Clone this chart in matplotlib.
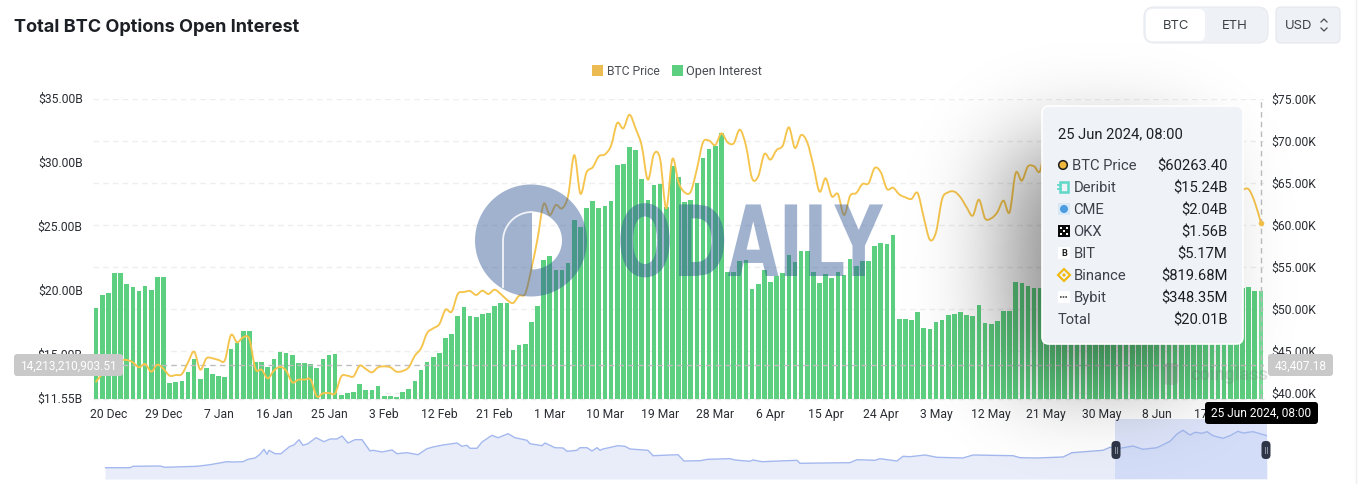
import math
import numpy as np
import matplotlib
matplotlib.use("Agg")
import matplotlib.pyplot as plt
from matplotlib.path import Path
from matplotlib.patches import PathPatch, FancyBboxPatch, Rectangle, Circle, Polygon
from matplotlib.transforms import Affine2D, ScaledTranslation
import matplotlib.patheffects as pe

W, H = 1358, 485
plt.rcParams['font.family'] = ['Roboto', 'DejaVu Sans']

tick_labels = ["20 Dec", "29 Dec", "7 Jan", "16 Jan", "25 Jan", "3 Feb", "12 Feb", "21 Feb", "1 Mar",
               "10 Mar", "19 Mar", "28 Mar", "6 Apr", "15 Apr", "24 Apr", "3 May", "12 May", "21 May",
               "30 May", "8 Jun", "17 Jun"]

# Open interest, $B, daily from 18 Dec to 25 Jun (the run behind the tooltip is estimated)
open_interest = [
    18.63, 19.68, 19.80, 21.40, 21.40, 20.53, 20.30, 20.00, 20.38, 20.07, 21.08, 21.08,
    12.77, 12.90, 12.93, 13.66, 14.65, 13.11, 13.97, 13.53, 13.32, 13.24, 15.46, 15.90,
    16.86, 16.86, 14.44, 14.44, 14.08, 14.67, 15.20, 15.14, 14.99, 14.39, 14.36, 14.28,
    14.00, 14.67, 15.01, 15.07, 11.86, 12.04, 12.07, 12.75, 12.23, 12.25, 12.59, 11.78,
    11.76, 11.71, 12.07, 12.33, 12.96, 13.79, 14.44, 14.83, 15.14, 16.29, 16.60, 18.03,
    18.71, 18.03, 17.93, 18.16, 18.27, 18.79, 19.02, 19.05, 15.40, 15.74, 15.82, 17.59,
    18.79, 22.41, 22.72, 21.65, 21.63, 22.20, 25.53, 24.99, 26.47, 27.02, 26.47, 26.60,
    27.02, 29.81, 29.94, 31.24, 31.05, 28.74, 27.10, 28.27, 28.37, 26.52, 29.73, 28.89,
    26.94, 27.07, 28.43, 30.38, 31.13, 31.29, 32.31, 21.50, 21.50, 22.31, 22.38, 20.14,
    20.56, 21.60, 20.66, 21.16, 21.39, 22.77, 22.25, 23.11, 23.11, 21.45, 20.61, 21.32,
    21.00, 21.47, 21.24, 22.49, 21.94, 22.33, 22.33, 23.50, 23.71, 23.63, 24.34, 17.83,
    17.80, 17.75, 18.32, 17.10, 17.02, 17.59, 17.75, 18.14, 18.19, 18.32, 18.11, 18.01,
    18.89, 17.49, 17.41, 17.64, 18.45, 18.43, 20.69, 20.61, 20.40, 20.25, 20.22,
    20.3, 20.2, 20.4, 20.5, 20.6, 20.5, 20.7, 20.8, 20.6, 20.5, 20.4, 20.6, 20.7, 20.8,
    20.6, 20.5, 20.3, 20.4, 20.2, 20.3, 20.1, 20.2, 20.3, 20.1, 20.2, 20.3, 20.2, 20.1,
    20.2, 20.3, 20.2, 20.3, 20.25, 20.27, 19.99, 20.01]

# BTC price, $K, same days (the run behind the tooltip is estimated)
btc_price = [
    41.35, 42.26, 43.06, 43.45, 43.85, 43.93, 43.65, 43.06, 43.45, 42.54, 43.37, 42.86,
    42.06, 42.14, 42.26, 43.65, 44.92, 42.78, 44.13, 44.13, 43.93, 43.89, 46.90, 46.03,
    46.63, 46.43, 42.86, 42.78, 41.75, 42.66, 43.10, 42.66, 41.27, 41.59, 41.59, 41.59,
    39.60, 39.96, 40.00, 39.96, 41.98, 42.06, 41.98, 43.25, 42.86, 42.46, 43.06, 43.17,
    43.06, 42.54, 42.62, 43.06, 44.44, 45.32, 47.14, 47.70, 48.21, 49.92, 49.68, 51.79,
    52.02, 52.14, 51.67, 52.18, 51.79, 52.30, 51.79, 51.11, 50.71, 51.59, 51.83, 54.76,
    58.33, 62.50, 61.19, 62.38, 61.98, 63.49, 68.33, 63.73, 66.27, 66.87, 68.17, 68.41,
    69.44, 72.14, 71.50, 73.13, 71.50, 69.44, 65.40, 68.45, 67.86, 61.98, 67.86, 65.08,
    63.89, 63.97, 66.67, 69.84, 70.04, 69.52, 70.91, 69.84, 69.72, 71.35, 69.44, 65.56,
    65.79, 68.45, 67.78, 68.93, 69.44, 71.63, 69.17, 70.71, 69.84, 67.06, 63.97, 65.56,
    63.41, 63.69, 61.19, 63.49, 63.81, 64.88, 64.96, 66.79, 66.27, 64.29, 64.44, 63.65,
    63.29, 63.10, 63.81, 60.91, 58.25, 59.13, 63.10, 63.89, 63.97, 63.29, 62.10, 61.11,
    63.02, 60.79, 60.79, 61.51, 62.90, 61.51, 66.19, 65.28, 66.98, 66.98, 66.47,
    70.5, 70.0, 68.0, 68.5, 69.0, 69.0, 69.5, 68.5, 68.0, 68.0, 67.5, 67.7, 68.0, 69.0,
    70.5, 71.0, 70.8, 69.3, 69.3, 69.5, 69.5, 67.3, 68.2, 66.8, 66.0, 66.2, 66.6, 66.4,
    65.0, 65.0, 64.8, 64.1, 64.2, 64.25, 62.7, 60.26]

oi_ticks = [11.55, 15, 20, 25, 30, 35]
oi_tick_labels = ["$11.55B", "$15.00B", "$20.00B", "$25.00B", "$30.00B", "$35.00B"]
price_ticks = [40, 45, 50, 55, 60, 65, 70, 75]
price_tick_labels = ["$40.00K", "$45.00K", "$50.00K", "$55.00K", "$60.00K", "$65.00K", "$70.00K", "$75.00K"]

cross_oi = 14.21321090351
cross_price = 43.40718

# Overview strip: position along the strip and height of the price trace
mini_pos = [0, 25, 28, 55, 60, 92, 105, 122, 128, 138, 143, 150, 155, 159, 162, 164, 170, 176, 180, 185,
            189, 194, 198, 203, 211, 219, 225, 232, 237, 243, 250, 257, 265, 268, 277, 287, 292, 302, 313,
            322, 328, 338, 352, 357, 362, 365, 372, 377, 387, 393, 395, 403, 410, 422, 425, 437, 440, 450,
            458, 462, 472, 475, 482, 487, 492, 495, 498, 513, 520, 525, 543, 548, 573, 579, 595, 603, 625,
            630, 645, 648, 657, 692, 695, 745, 752, 770, 775, 792, 798, 805, 820, 832, 858, 868, 908, 915,
            932, 958, 967, 998, 1005, 1015, 1028, 1038, 1052, 1065, 1072, 1078, 1085, 1090, 1097, 1102,
            1108, 1118, 1125, 1133, 1138, 1148, 1162]
mini_val = [11.3, 11.3, 12.7, 13, 11.7, 12.7, 14.3, 17.3, 17, 17.3, 19.7, 21, 24.7, 29.7, 24.7, 28.7, 25.3,
            25.3, 28.7, 32.7, 34, 39.3, 33.7, 35.3, 41.3, 37.3, 40, 40, 43, 36, 39.3, 39.3, 28, 28.7, 27, 29,
            25.3, 26.3, 24.3, 30.3, 32, 34, 36, 32.7, 33.7, 30.7, 30.7, 37, 43.7, 41.3, 42, 45.3, 41.3, 38.7,
            35.3, 33.3, 36, 31.3, 31, 27.7, 28.7, 31.3, 31.3, 28, 31.3, 28.7, 30, 33.3, 32.7, 30, 28.7, 23.3,
            24.3, 18, 18.3, 19.7, 20.3, 19, 17.7, 19, 17.3, 18.7, 15.7, 16.3, 19.3, 18.7, 20.3, 18, 22.7, 22.3,
            24, 21.7, 21, 24, 23.3, 21.3, 21, 22, 26.3, 28.7, 31.7, 30.7, 33, 29.7, 31.3, 37.7, 45, 48.7, 44,
            46.7, 45.7, 47.3, 43.3, 40.7, 43.3, 47.7, 46, 47.3, 43.3]

tooltip_rows = ["BTC Price", "Deribit", "CME", "OKX", "BIT", "Binance", "Bybit", "Total"]
tooltip_vals = ["$60263.40", "$15.24B", "$2.04B", "$1.56B", "$5.17M", "$819.68M", "$348.35M", "$20.01B"]

GREEN = "#5dcf80"
GOLD = "#f5c44c"
TXT = "#2a2d33"


def px_axes(x0, y0, x1, y1):
    return fig.add_axes([x0 / W, 1 - y1 / H, (x1 - x0) / W, (y1 - y0) / H])


fig = plt.figure(figsize=(W / 100, H / 100), dpi=100, facecolor="white")

# ---------------- main chart
ax = px_axes(93, 100, 1264, 400)
n = len(open_interest)
idx = np.arange(n)
ax.set_xlim(-0.5, n - 0.5)
ax.set_ylim(oi_ticks[0], oi_ticks[-1])
ax.patch.set_alpha(0)
for s in ax.spines.values():
    s.set_visible(False)
bars = ax.bar(idx, open_interest, width=0.76, color=GREEN, zorder=2)
bars[-1].set_facecolor("#74dd96")
ax.set_xticks(idx[2::9][:len(tick_labels)])
ax.set_xticklabels(tick_labels, fontsize=8.7, color=TXT)
ax.set_yticks(oi_ticks)
ax.set_yticklabels(oi_tick_labels, fontsize=8.7, color=TXT)
ax.tick_params(length=0, axis='y', pad=7.5)
ax.tick_params(length=0, axis='x', pad=6)
lift = ScaledTranslation(0, 2 / 100, fig.dpi_scale_trans)
for lab in ax.get_yticklabels():
    lab.set_transform(lab.get_transform() + lift)
ax.axhline(cross_oi, color="#bdbdbd", lw=1, ls=(0, (4, 3)), zorder=4)
ax.axvline(idx[-1], color="#bdbdbd", lw=1, ls=(0, (4, 3)), zorder=4)
ax.axhline(oi_ticks[0], color="#e8e8e8", lw=1, ls=(0, (4, 3)), zorder=1, clip_on=False)

ax2 = ax.twinx()
ax2.set_ylim(39.286, 75)
ax2.patch.set_alpha(0)
for s in ax2.spines.values():
    s.set_visible(False)
ax2.set_yticks(price_ticks)
ax2.set_yticklabels(price_tick_labels, fontsize=8.7, color=TXT)
ax2.tick_params(length=0, pad=5.5)
for lab in ax2.get_yticklabels():
    lab.set_transform(lab.get_transform() + ScaledTranslation(0, 1 / 100, fig.dpi_scale_trans))
ax2.grid(axis='y', color="#eeeeee", lw=1, ls=(0, (4, 3)), zorder=0)
ax2.set_axisbelow(True)
ax.set_zorder(2)
ax2.set_zorder(1)
ax2.tick_params(labelright=True)

# gridlines sit behind the bars: ax2 (grid, right labels) below, bars on ax, price on top axes
ax3 = ax.twinx()
ax3.set_ylim(ax2.get_ylim())
ax3.axis("off")
ax3.set_zorder(3)
px_ = np.asarray(idx, float)
py_ = np.asarray(btc_price, float)
verts = [(px_[0], py_[0])]
codes = [Path.MOVETO]
for i in range(n - 1):
    a = max(i - 1, 0)
    b = min(i + 2, n - 1)
    verts += [(px_[i] + (px_[i + 1] - px_[a]) / 6, py_[i] + (py_[i + 1] - py_[a]) / 6),
              (px_[i + 1] - (px_[b] - px_[i]) / 6, py_[i + 1] - (py_[b] - py_[i]) / 6),
              (px_[i + 1], py_[i + 1])]
    codes += [Path.CURVE4] * 3
ax3.add_patch(PathPatch(Path(verts, codes), fc="none", ec=GOLD, lw=1.35, capstyle="round", joinstyle="round", zorder=5))
ax3.plot(idx[-1], btc_price[-1], "o", ms=3, color=GOLD, zorder=6)

# ---------------- overview strip
mini = px_axes(105, 420, 1267, 480)
mini.set_xlim(0, 1162)
mini.set_ylim(0, 60)
mini.axis("off")
mini.fill_between(mini_pos, mini_val, color="#e9edfa", lw=0, zorder=1)
mini.plot(mini_pos, mini_val, color="#a3b8ee", lw=1, zorder=3)
mini.add_patch(Rectangle((1010, 0), 152, 60, fc="#c3d1f7", alpha=0.55, lw=0, zorder=2))

# ---------------- page furniture in pixel coordinates
ov = fig.add_axes([0, 0, 1, 1])
ov.set_xlim(0, W)
ov.set_ylim(H, 0)
ov.axis("off")
ov.set_zorder(10)
ov.patch.set_alpha(0)


def rbox(x0, y0, x1, y1, r, fc, ec="none", lw=0, z=5, alpha=None):
    p = FancyBboxPatch((x0, y0), x1 - x0, y1 - y0, boxstyle=f"round,pad=0,rounding_size={r}",
                       fc=fc, ec=ec, lw=lw, zorder=z, alpha=alpha)
    ov.add_patch(p)
    return p


ov.text(14, 27.5, "Total BTC Options Open Interest", fontsize=13.05, fontweight="bold", family=["Inter", "DejaVu Sans"],
        color="#1c1f24", va="center", ha="left")
rbox(1144, 8, 1268, 44, 10, "#eef1f6", "#e6e9ee", 0.8)
rbox(1146, 10, 1205, 42, 6, "#ffffff")
ov.text(1176, 26, "BTC", fontsize=9.4, color="#3c4047", ha="center", va="center", family=["Inter", "DejaVu Sans"], zorder=6)
ov.text(1235, 26, "ETH", fontsize=9.4, color="#3c4047", ha="center", va="center", family=["Inter", "DejaVu Sans"], zorder=6)
rbox(1276, 8, 1340, 44, 5, "#eef1f6", "#e3e6eb", 0.8)
ov.text(1299, 26, "USD", fontsize=9.4, color="#3c4047", ha="center", va="center", family=["Inter", "DejaVu Sans"], zorder=6)
ov.plot([1321, 1324, 1327], [23, 20, 23], color="#4a4e55", lw=0.9, zorder=6)
ov.plot([1321, 1324, 1327], [29, 32, 29], color="#4a4e55", lw=0.9, zorder=6)
ov.plot([1356, 1356], [0, H], color="#eeeeee", lw=1)

# legend
ov.add_patch(Rectangle((592, 66), 11, 11, fc="#ecbc52", lw=0))
ov.text(607, 71.5, "BTC Price", fontsize=8.7, color="#4a4e55", va="center")
ov.add_patch(Rectangle((672, 66), 11, 11, fc=GREEN, lw=0))
ov.text(686, 71.5, "Open Interest", fontsize=9.2, color="#4a4e55", va="center")


# ODAILY watermark
class Stretch(pe.AbstractPathEffect):
    def __init__(self, sx, sy):
        super().__init__()
        self.sx, self.sy = sx, sy

    def draw_path(self, renderer, gc, tpath, affine, rgbFace=None):
        renderer.draw_path(gc, tpath, Affine2D().scale(self.sx, self.sy) + affine, rgbFace)


WM = "#2f5596"
th = np.linspace(0, 2 * np.pi, 120)
outer = np.c_[531 + 56 * np.cos(th), 241.5 + 56 * np.sin(th)]
th2 = np.linspace(np.pi / 2, -np.pi / 2, 40)
hole = np.c_[532 + 30 * np.cos(th2), 241.5 + 29 * np.sin(th2)]
hole = np.r_[hole, hole[:1]]
vv = np.r_[outer, hole]
cc = [Path.MOVETO] + [Path.LINETO] * (len(outer) - 1) + [Path.MOVETO] + [Path.LINETO] * (len(hole) - 1)
ov.add_patch(PathPatch(Path(vv, cc), fc=WM, ec="none", alpha=0.45, zorder=2))
ta = np.linspace(np.pi, 1.5 * np.pi, 20)
ov.plot(np.r_[503, 532 + 29 * np.cos(ta)], np.r_[288, 242 + 29 * np.sin(ta)], color="white", lw=1.3, alpha=0.85, zorder=2)
ov.text(617, 277, "ODAILY", fontsize=62, fontweight="bold", family=["DejaVu Sans"], color=WM, alpha=0.45,
        ha="left", va="baseline", zorder=2, path_effects=[Stretch(0.765, 1.14)])
# coinglass watermark
rbox(1164, 364, 1178, 386, 4, "#888888", alpha=0.22, z=2)
ov.text(1190, 375, "coinglass", fontsize=13, color="#777777", alpha=0.22, va="center", zorder=2, fontweight="bold")

# tooltip shadow
xs = np.arange(W) + 0.5
ys = np.arange(H) + 0.5
sig = 45.0
Fx = np.array([0.5 * (math.erf((v - 1010) / (sig * 2 ** .5)) - math.erf((v - 1190) / (sig * 2 ** .5))) for v in xs])
Fy = np.array([0.5 * (math.erf((v - 150) / (sig * 2 ** .5)) - math.erf((v - 375) / (sig * 2 ** .5))) for v in ys])
shadow = np.zeros((H, W, 4))
shadow[..., 3] = 0.47 * np.outer(Fy, Fx)
ov.imshow(shadow, extent=(0, W, H, 0), aspect="auto", zorder=3, interpolation="nearest")
ov.set_xlim(0, W)
ov.set_ylim(H, 0)

# crosshair labels
rbox(14, 355, 123, 377, 3, "#c9c9c9", z=4)
ov.text(68.5, 366, f"{cross_oi * 1e9:,.2f}", fontsize=8.6, color="white", ha="center", va="center", zorder=5)
rbox(1268, 355, 1333, 377, 3, "#c9c9c9", z=4)
ov.text(1300.5, 366, f"{cross_price * 1e3:,.2f}", fontsize=8.6, color="white", ha="center", va="center", zorder=5)
rbox(1205, 403, 1318, 425, 3, "#000000", z=6)
ov.text(1261.5, 413.5, "25 Jun 2024, 08:00", fontsize=8.6, color="white", ha="center", va="center", zorder=7)

# overview handles
for cx in (1116, 1266):
    rbox(cx - 4.5, 442, cx + 4.5, 460, 4, "#2e3546", z=4)
    ov.plot([cx - 1, cx - 1], [448, 454], color="#8d93a1", lw=0.7, zorder=5)
    ov.plot([cx + 1, cx + 1], [448, 454], color="#8d93a1", lw=0.7, zorder=5)

# tooltip
rbox(1042, 107, 1243, 345, 7, "#eff2f7", "#ffffff", 1.2, z=8)
ov.text(1058, 134.5, "25 Jun 2024, 08:00", fontsize=10.6, color="#1c1f24", va="center", zorder=9)
row_y = [166.5, 188.5, 210.5, 232.5, 254.5, 276.5, 298.5, 320.5]
for k, (lab, val, yy) in enumerate(zip(tooltip_rows, tooltip_vals, row_y)):
    lx = 1058 if lab == "Total" else (1072.5 if k == 0 else 1073.5)
    ov.text(lx, yy, lab, fontsize=10.6, color="#3d4149", va="center", zorder=9)
    ov.text(1227.5, yy, val, fontsize=10.6, color="#1c1f24", va="center", ha="right", zorder=9)
# tooltip icons
ov.add_patch(Circle((1063, 166), 4.3, fc="#f0b73f", ec="#1c1c1c", lw=1.1, zorder=9))
ov.add_patch(Rectangle((1060, 183), 8, 10, fc="none", ec="#5fd8c8", lw=1.8, zorder=9))
ov.plot([1058, 1061], [186, 186], color="#5fd8c8", lw=1.3, zorder=9)
ov.plot([1058, 1061], [190, 190], color="#5fd8c8", lw=1.3, zorder=9)
ov.add_patch(Rectangle((1058, 204), 12, 12, fc="#d8e8f6", lw=0, zorder=9))
ov.add_patch(Circle((1064, 210), 4, fc="#4a9be0", lw=0, zorder=10))
ov.add_patch(Rectangle((1058, 226), 12, 12, fc="#0a0a0a", lw=0, zorder=9))
for dx, dy in [(-3, -3), (3, -3), (-3, 3), (3, 3), (0, 0)]:
    ov.add_patch(Rectangle((1064 + dx - 1.4, 232 + dy - 1.4), 2.8, 2.8, fc="white", lw=0, zorder=10))
ov.add_patch(Rectangle((1058, 248), 12, 12, fc="white", lw=0, zorder=9))
ov.text(1064, 254, "B", fontsize=6.5, fontweight="bold", color="#222222", ha="center", va="center", zorder=10)
ov.add_patch(Polygon([(1064, 270), (1070, 276), (1064, 282), (1058, 276)], fc="none", ec="#f0b90b", lw=1.5, zorder=9))
ov.add_patch(Polygon([(1064, 274), (1066, 276), (1064, 278), (1062, 276)], fc="#f0b90b", lw=0, zorder=9))
ov.add_patch(Rectangle((1058, 292), 12, 12, fc="white", lw=0, zorder=9))
ov.plot([1060, 1068], [298, 298], color="#444444", lw=1.2, ls=(0, (1, 0.6)), zorder=10)

fig.savefig("out.png", dpi=100, facecolor="white")
